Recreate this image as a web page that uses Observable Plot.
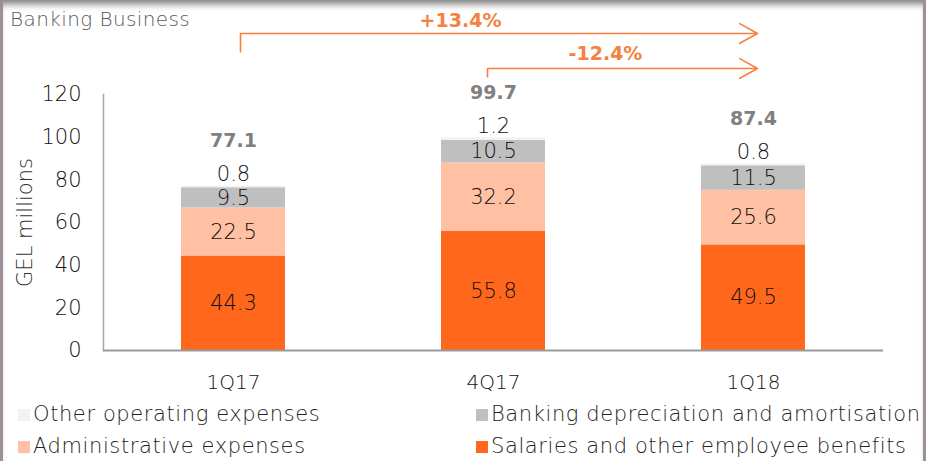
<!DOCTYPE html>
<html>
<head>
<meta charset="utf-8">
<script src="https://cdn.jsdelivr.net/npm/d3@7"></script>
<script src="https://cdn.jsdelivr.net/npm/@observablehq/plot@0.6"></script>
<style>
  html, body { margin: 0; padding: 0; background: #fff; }
  #wrap { position: relative; width: 926px; height: 461px; overflow: hidden; font-family: "DejaVu Sans", sans-serif; font-weight: 200; }
  #frame { position: absolute; left: 0; top: 0; width: 926px; height: 461px; box-sizing: border-box;
           border-left: 3px solid #9c9096; border-right: 3px solid #9c9096;
           box-shadow: inset 0 8px 7px -4px #7d7d7d; pointer-events: none; }
  #title { position: absolute; left: 10px; top: 7px; font-size: 20px; letter-spacing: 0.4px; color: #5a5a5a; white-space: nowrap; }
  .lg { position: absolute; font-size: 21px; letter-spacing: 0.6px; color: #222; white-space: nowrap; }
  .sw { position: absolute; width: 12px; height: 12px; }
  svg { position: absolute; left: 0; top: 0; }
</style>
</head>
<body>
<div id="wrap">
  <div id="chart"></div>
  <div id="title">Banking Business</div>
  <div id="legend"></div>
  <div id="frame"></div>
</div>
<script>
const categories = ["1Q17", "4Q17", "1Q18"];
const seriesNames = ["Salaries and other employee benefits", "Administrative expenses", "Banking depreciation and amortisation", "Other operating expenses"];
const salaries = [44.3, 55.8, 49.5];
const administrative = [22.5, 32.2, 25.6];
const depreciation = [9.5, 10.5, 11.5];
const other = [0.8, 1.2, 0.8];
const totals = [77.1, 99.7, 87.4];
const yTicks = [0, 20, 40, 60, 80, 100, 120];
const yLabel = "GEL millions";
const growthLabels = ["+13.4%", "-12.4%"];
const growthFrom = ["1Q17", "4Q17"];
const growthTo = ["1Q18", "1Q18"];
const growthLevel = [148.6, 132.2];   // arrow heights (GEL millions scale, above the axis top)
const growthStart = [139.7, 128.0];
const growthText = [154.7, 138.8];

const colors = ["#ff671c", "#ffc0a4", "#bfbfbf", "#f2f2f2"];
const seriesValues = [salaries, administrative, depreciation, other];

const rows = [];
categories.forEach((c, i) => {
  let base = 0;
  seriesValues.forEach((vals, s) => {
    rows.push({cat: c, series: seriesNames[s], value: vals[i], y1: base, y2: base + vals[i], s});
    base += vals[i];
  });
});
const inner = rows.filter(d => d.s < 3);
const tops = rows.filter(d => d.s === 3);
const totalRows = categories.map((c, i) => ({cat: c, total: totals[i]}));
const growth = growthLabels.map((t, i) => ({label: t, from: growthFrom[i], to: growthTo[i], level: growthLevel[i], start: growthStart[i], ty: growthText[i]}));

const orange = "#f5813f";
const font = "'DejaVu Sans', sans-serif";

const plot = Plot.plot({
  width: 926,
  height: 461,
  marginLeft: 103,
  marginRight: 43,
  marginTop: 94,
  marginBottom: 111,
  style: {fontFamily: font, fontWeight: 200, background: "transparent"},
  x: {domain: categories, paddingInner: 0.6, paddingOuter: 0.3, label: null},
  y: {domain: [0, 120], label: null},
  color: {domain: seriesNames, range: colors},
  marks: [
    Plot.barY(rows, {x: "cat", y1: "y1", y2: "y2", fill: "series"}),
    Plot.frame({anchor: "left", stroke: "#a6a6a6", strokeWidth: 1.5}),
    Plot.ruleY([0], {stroke: "#9a9a9a", strokeWidth: 2}),
    Plot.axisY({ticks: yTicks, tickSize: 0, tickPadding: 22, fontSize: 21, tickFormat: d => String(d), fill: "#111"}),
    Plot.text([yLabel], {frameAnchor: "left", textAnchor: "middle", rotate: -90, dx: -78, text: d => d, fontSize: 21, fill: "#333"}),
    Plot.axisX({tickSize: 0, tickPadding: 24, fontSize: 20, fill: "#111"}),
    Plot.text(inner, {x: "cat", y: d => (d.y1 + d.y2) / 2, text: d => d.value.toFixed(1), fontSize: 21, fill: "#111"}),
    Plot.text(tops, {x: "cat", y: "y2", text: d => d.value.toFixed(1), dy: -12, fontSize: 21, fill: "#111"}),
    Plot.text(totalRows, {x: "cat", y: "total", text: d => d.total.toFixed(1), dy: -45, fontSize: 19, fontWeight: "bold", fill: "#808080"}),
    Plot.link(growth.slice(0, 1), {x1: "from", x2: "from", y1: "start", y2: "level", stroke: orange, strokeWidth: 1.6, dx: 7}),
    Plot.link(growth.slice(1, 2), {x1: "from", x2: "from", y1: "start", y2: "level", stroke: orange, strokeWidth: 1.6, dx: -6}),
    Plot.arrow(growth.slice(0, 1), {x1: "from", x2: "to", y1: "level", y2: "level", stroke: orange, strokeWidth: 1.6, headLength: 19, headAngle: 58, dx: 7, insetEnd: 3}),
    Plot.arrow(growth.slice(1, 2), {x1: "from", x2: "to", y1: "level", y2: "level", stroke: orange, strokeWidth: 1.6, headLength: 19, headAngle: 58, dx: -6, insetEnd: -10}),
    Plot.text(growth.slice(0, 1), {x: () => categories[1], y: "ty", text: "label", dx: -33, fontSize: 19, fontWeight: "bold", fill: orange}),
    Plot.text(growth.slice(1, 2), {x: () => categories[1], y: "ty", text: "label", dx: 112, fontSize: 19, fontWeight: "bold", fill: orange})
  ]
});
document.getElementById("chart").appendChild(plot);

// legend
const legend = document.getElementById("legend");
const legendLayout = [
  {s: 3, x: 18, y: 415}, {s: 2, x: 476, y: 415},
  {s: 1, x: 18, y: 447}, {s: 0, x: 476, y: 447}
];
legendLayout.forEach(l => {
  const sw = document.createElement("div");
  sw.className = "sw";
  sw.style.left = l.x + "px";
  sw.style.top = (l.y - 6) + "px";
  sw.style.background = colors[l.s];
  legend.appendChild(sw);
  const t = document.createElement("div");
  t.className = "lg";
  t.style.left = (l.x + 15) + "px";
  t.style.top = (l.y - 13) + "px";
  t.textContent = seriesNames[l.s];
  legend.appendChild(t);
});
</script>
</body>
</html>
